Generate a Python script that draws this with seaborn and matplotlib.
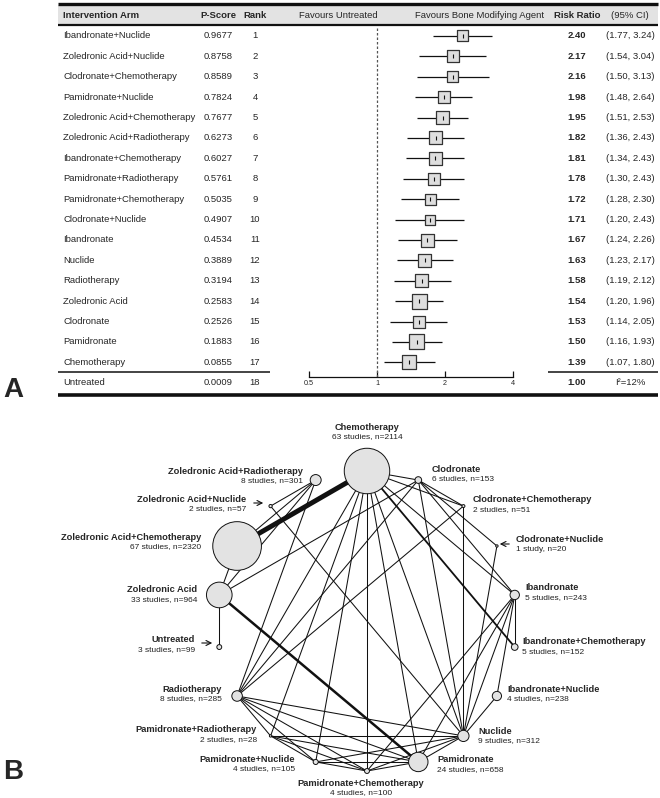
import numpy as np
import pandas as pd
import matplotlib
matplotlib.use("Agg")
import matplotlib.pyplot as plt
import seaborn as sns
from matplotlib.patches import Rectangle

sns.set_theme(style="white")
plt.rcParams["font.family"] = ["Liberation Sans", "DejaVu Sans"]

# -----------------------------
# DATA: FOREST PLOT (PANEL A)
# -----------------------------
arms = ["Ibandronate+Nuclide", "Zoledronic Acid+Nuclide", "Clodronate+Chemotherapy",
        "Pamidronate+Nuclide", "Zoledronic Acid+Chemotherapy", "Zoledronic Acid+Radiotherapy",
        "Ibandronate+Chemotherapy", "Pamidronate+Radiotherapy", "Pamidronate+Chemotherapy",
        "Clodronate+Nuclide", "Ibandronate", "Nuclide", "Radiotherapy", "Zoledronic Acid",
        "Clodronate", "Pamidronate", "Chemotherapy"]
p_scores = [0.9677, 0.8758, 0.8589, 0.7824, 0.7677, 0.6273, 0.6027, 0.5761, 0.5035,
            0.4907, 0.4534, 0.3889, 0.3194, 0.2583, 0.2526, 0.1883, 0.0855]
ranks = [1, 2, 3, 4, 5, 6, 7, 8, 9, 10, 11, 12, 13, 14, 15, 16, 17]
risk_ratio = [2.40, 2.17, 2.16, 1.98, 1.95, 1.82, 1.81, 1.78, 1.72, 1.71, 1.67, 1.63,
              1.58, 1.54, 1.53, 1.50, 1.39]
ci_low = [1.77, 1.54, 1.50, 1.48, 1.51, 1.36, 1.34, 1.30, 1.28, 1.20, 1.24, 1.23,
          1.19, 1.20, 1.14, 1.16, 1.07]
ci_high = [3.24, 3.04, 3.13, 2.64, 2.53, 2.43, 2.43, 2.43, 2.30, 2.43, 2.26, 2.17,
           2.12, 1.96, 2.05, 1.93, 1.80]
weights = [11, 12, 11, 12, 13, 13, 13, 12, 11, 10, 13, 13, 13, 15, 12, 15, 14]

ref_arm = "Untreated"
ref_pscore = 0.0009
ref_rank = 18
ref_rr = 1.00
heterogeneity = "I²=12%"
x_ticks = [0.5, 1, 2, 4]

# -----------------------------
# DATA: NETWORK (PANEL B)
# -----------------------------
nodes = ["Chemotherapy", "Clodronate", "Clodronate+Chemotherapy", "Clodronate+Nuclide",
         "Ibandronate", "Ibandronate+Chemotherapy", "Ibandronate+Nuclide", "Nuclide",
         "Pamidronate", "Pamidronate+Chemotherapy", "Pamidronate+Nuclide",
         "Pamidronate+Radiotherapy", "Radiotherapy", "Untreated", "Zoledronic Acid",
         "Zoledronic Acid+Chemotherapy", "Zoledronic Acid+Nuclide",
         "Zoledronic Acid+Radiotherapy"]
n_studies = [63, 6, 2, 1, 5, 5, 4, 9, 24, 4, 4, 2, 8, 3, 33, 67, 2, 8]
n_patients = [2114, 153, 51, 20, 243, 152, 238, 312, 658, 100, 105, 28, 285, 99, 964,
              2320, 57, 301]

edge_a = ["Zoledronic Acid+Chemotherapy", "Zoledronic Acid", "Chemotherapy",
          "Zoledronic Acid", "Zoledronic Acid", "Zoledronic Acid", "Zoledronic Acid",
          "Zoledronic Acid+Radiotherapy", "Zoledronic Acid+Radiotherapy",
          "Zoledronic Acid+Radiotherapy", "Zoledronic Acid+Nuclide",
          "Chemotherapy", "Chemotherapy", "Chemotherapy", "Chemotherapy", "Chemotherapy",
          "Chemotherapy", "Chemotherapy", "Chemotherapy", "Chemotherapy",
          "Clodronate", "Clodronate", "Clodronate", "Clodronate", "Clodronate",
          "Clodronate+Chemotherapy", "Clodronate+Chemotherapy", "Clodronate+Nuclide",
          "Ibandronate", "Ibandronate", "Ibandronate", "Ibandronate", "Ibandronate",
          "Ibandronate+Nuclide", "Nuclide", "Nuclide", "Nuclide", "Nuclide", "Nuclide",
          "Pamidronate", "Pamidronate", "Pamidronate", "Pamidronate",
          "Pamidronate+Chemotherapy", "Pamidronate+Chemotherapy", "Pamidronate+Chemotherapy",
          "Pamidronate+Nuclide", "Pamidronate+Nuclide", "Pamidronate+Radiotherapy"]
edge_b = ["Chemotherapy", "Pamidronate", "Ibandronate+Chemotherapy",
          "Untreated", "Zoledronic Acid+Chemotherapy", "Clodronate",
          "Zoledronic Acid+Radiotherapy",
          "Zoledronic Acid+Nuclide", "Zoledronic Acid+Chemotherapy",
          "Radiotherapy", "Nuclide",
          "Clodronate", "Clodronate+Chemotherapy", "Radiotherapy", "Pamidronate+Radiotherapy",
          "Pamidronate+Nuclide", "Pamidronate+Chemotherapy", "Pamidronate", "Nuclide",
          "Ibandronate",
          "Clodronate+Chemotherapy", "Clodronate+Nuclide", "Ibandronate", "Radiotherapy",
          "Nuclide",
          "Radiotherapy", "Nuclide", "Nuclide",
          "Ibandronate+Chemotherapy", "Ibandronate+Nuclide", "Nuclide", "Pamidronate",
          "Pamidronate+Chemotherapy",
          "Nuclide", "Pamidronate", "Pamidronate+Chemotherapy", "Pamidronate+Nuclide",
          "Pamidronate+Radiotherapy", "Radiotherapy",
          "Pamidronate+Chemotherapy", "Pamidronate+Nuclide", "Pamidronate+Radiotherapy",
          "Radiotherapy",
          "Pamidronate+Nuclide", "Pamidronate+Radiotherapy", "Radiotherapy",
          "Pamidronate+Radiotherapy", "Radiotherapy", "Radiotherapy"]
edge_k = [7, 3, 2] + [1] * (len(edge_a) - 3)

# -----------------------------
# FIGURE (pixel-coordinate canvas)
# -----------------------------
W, H = 660, 798
fig = plt.figure(figsize=(W / 100, H / 100), dpi=100)
ax = fig.add_axes([0, 0, 1, 1])
ax.set_xlim(0, W)
ax.set_ylim(H, 0)
ax.axis("off")

FS = 6.8
ink = "#111111"


def row_y(r):
    return 36 + (r - 1) * 20.4


# table frame
ax.add_patch(Rectangle((58, 5), 600, 19, facecolor="#e3e3e3", edgecolor="none", zorder=0))
ax.plot([58, 658], [4, 4], color=ink, lw=2.4, solid_capstyle="butt")
ax.plot([58, 658], [24.5, 24.5], color=ink, lw=1.6, solid_capstyle="butt")
ax.plot([58, 270], [372, 372], color=ink, lw=1.1, solid_capstyle="butt")
ax.plot([548, 658], [372, 372], color=ink, lw=1.1, solid_capstyle="butt")
ax.plot([58, 658], [395, 395], color=ink, lw=2.6, solid_capstyle="butt")

hy = 15
ax.text(63, hy, "Intervention Arm", fontsize=FS, fontweight="bold", va="center", ha="left")
ax.text(218, hy, "P-Score", fontsize=FS, fontweight="bold", va="center", ha="center")
ax.text(255, hy, "Rank", fontsize=FS, fontweight="bold", va="center", ha="center")
ax.text(338, hy, "Favours Untreated", fontsize=FS, va="center", ha="center")
ax.text(480, hy, "Favours Bone Modifying Agent", fontsize=FS, va="center", ha="center")
ax.text(577, hy, "Risk Ratio", fontsize=FS, fontweight="bold", va="center", ha="center")
ax.text(630, hy, "(95% CI)", fontsize=FS, va="center", ha="center")

for i, arm in enumerate(arms):
    y = row_y(ranks[i])
    ax.text(63, y, arm, fontsize=FS, va="center", ha="left")
    ax.text(218, y, f"{p_scores[i]:.4f}", fontsize=FS, va="center", ha="center")
    ax.text(255, y, str(ranks[i]), fontsize=FS, va="center", ha="center")
    ax.text(577, y, f"{risk_ratio[i]:.2f}", fontsize=FS, fontweight="bold", va="center", ha="center")
    ax.text(630, y, f"({ci_low[i]:.2f}, {ci_high[i]:.2f})", fontsize=FS, va="center", ha="center")

y = row_y(ref_rank)
ax.text(63, y, ref_arm, fontsize=FS, va="center", ha="left")
ax.text(218, y, f"{ref_pscore:.4f}", fontsize=FS, va="center", ha="center")
ax.text(255, y, str(ref_rank), fontsize=FS, va="center", ha="center")
ax.text(577, y, f"{ref_rr:.2f}", fontsize=FS, fontweight="bold", va="center", ha="center")
ax.text(630, y, heterogeneity, fontsize=FS, va="center", ha="center")

ax.text(3, 397, "A", fontsize=20, fontweight="bold", va="baseline", ha="left")
ax.text(3, 779, "B", fontsize=20, fontweight="bold", va="baseline", ha="left")

# -----------------------------
# FOREST AXES (log2 scale)
# -----------------------------
px_left, px_right, px_top, px_bot = 309, 513, 28, 377
fax = fig.add_axes([px_left / W, 1 - px_bot / H, (px_right - px_left) / W, (px_bot - px_top) / H])
fax.set_xscale("log", base=2)
fax.set_xlim(0.5, 4)
fax.set_ylim(1 + (px_bot - 36) / 20.4, 1 + (px_top - 36) / 20.4)
fax.patch.set_alpha(0)
for s in ["top", "left", "right"]:
    fax.spines[s].set_visible(False)
fax.spines["bottom"].set_color(ink)
fax.spines["bottom"].set_linewidth(0.9)
fax.set_yticks([])
fax.set_xticks(x_ticks)
fax.set_xticklabels(["0.5", "1", "2", "4"])
fax.xaxis.set_minor_locator(matplotlib.ticker.NullLocator())
fax.tick_params(axis="x", direction="in", length=4, width=0.9, labelsize=5.2, pad=2,
                bottom=True, color=ink)
fax.axvline(1, color="#555555", lw=0.9, ls=(0, (2, 1.6)), zorder=1)

fdf = pd.DataFrame({"rr": risk_ratio, "lo": ci_low, "hi": ci_high, "rank": ranks, "w": weights})
fax.hlines(fdf["rank"], fdf["lo"], fdf["hi"], color=ink, lw=0.9, zorder=2)
sns.scatterplot(data=fdf, x="rr", y="rank", marker="s", s=(fdf["w"] * 0.72) ** 2,
                color="#dedede", edgecolor="#333333", linewidth=0.9, ax=fax, zorder=3,
                legend=False)
sns.scatterplot(data=fdf, x="rr", y="rank", marker="|", s=12, color=ink, linewidth=0.8,
                ax=fax, zorder=4, legend=False)
fax.set_xlabel("")
fax.set_ylabel("")

# -----------------------------
# NETWORK (PANEL B)
# -----------------------------
cx, cy, R = 367, 621, 150
ang = np.deg2rad(np.arange(len(nodes)) * 360 / len(nodes))
ndf = pd.DataFrame({"node": nodes, "studies": n_studies, "n": n_patients,
                    "x": cx + R * np.sin(ang), "y": cy - R * np.cos(ang)})
ndf["r_px"] = np.maximum(0.085 * ndf["n"] ** 0.73, 1.2)
pos = ndf.set_index("node")[["x", "y"]]

for a, b, k in zip(edge_a, edge_b, edge_k):
    ax.plot([pos.loc[a, "x"], pos.loc[b, "x"]], [pos.loc[a, "y"], pos.loc[b, "y"]],
            color=ink, lw=0.75 * k ** 0.8, solid_capstyle="butt", zorder=2)

sns.scatterplot(data=ndf, x="x", y="y", s=(2 * ndf["r_px"] * 0.72) ** 2, color="#e3e3e3",
                edgecolor=ink, linewidth=0.7, ax=ax, zorder=3, legend=False)
ax.set_xlabel("")
ax.set_ylabel("")

# label layout: (x, y of name, alignment)
label_xy = {
    "Chemotherapy": (367, 427, "center"),
    "Clodronate": (432, 469, "left"),
    "Clodronate+Chemotherapy": (473, 500, "left"),
    "Clodronate+Nuclide": (516, 540, "left"),
    "Ibandronate": (525, 588, "left"),
    "Ibandronate+Chemotherapy": (522, 642, "left"),
    "Ibandronate+Nuclide": (507, 689, "left"),
    "Nuclide": (478, 731, "left"),
    "Pamidronate": (437, 760, "left"),
    "Pamidronate+Chemotherapy": (361, 783, "center"),
    "Pamidronate+Nuclide": (295, 759, "right"),
    "Pamidronate+Radiotherapy": (257, 730, "right"),
    "Radiotherapy": (222, 689, "right"),
    "Untreated": (195, 640, "right"),
    "Zoledronic Acid": (197, 590, "right"),
    "Zoledronic Acid+Chemotherapy": (201, 537, "right"),
    "Zoledronic Acid+Nuclide": (246, 499, "right"),
    "Zoledronic Acid+Radiotherapy": (303, 471, "right"),
}
for _, row in ndf.iterrows():
    lx, ly, ha = label_xy[row["node"]]
    st = "study" if row["studies"] == 1 else "studies"
    ax.text(lx, ly, row["node"], fontsize=6.7, fontweight="bold", ha=ha, va="center")
    ax.text(lx, ly + 9.5, f"{row['studies']} {st}, n={row['n']}", fontsize=6.0,
            color="#222222", ha=ha, va="center")

arrow_kw = dict(arrowstyle="->,head_length=0.3,head_width=0.15", lw=0.8, color=ink)
ax.annotate("", xy=(497, 544), xytext=(512, 544), arrowprops=arrow_kw)
ax.annotate("", xy=(215, 643), xytext=(199, 643), arrowprops=arrow_kw)
ax.annotate("", xy=(266, 503), xytext=(251, 503), arrowprops=arrow_kw)

fig.savefig("out.png", dpi=100)
